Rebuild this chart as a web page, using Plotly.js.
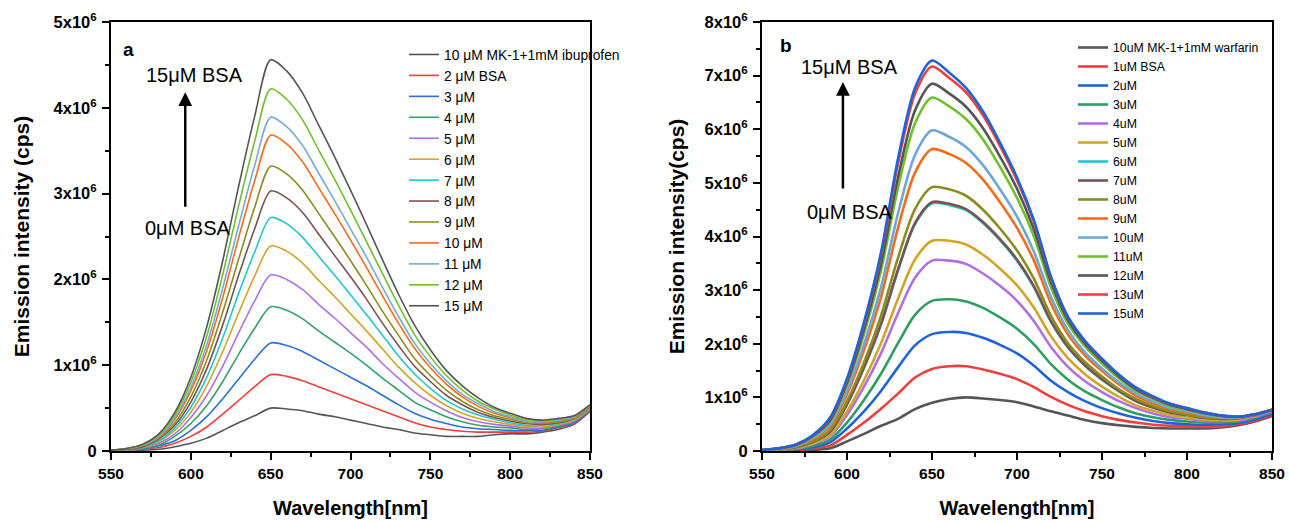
<!DOCTYPE html>
<html><head><meta charset="utf-8">
<script src="https://cdn.plot.ly/plotly-3.0.1.min.js"></script>
<style>html,body{margin:0;padding:0;background:#fff}</style>
</head><body><div id="chart" style="width:1290px;height:521px"></div>
<script>
// Wavelength grid (nm)
const wavelength = [550,560,570,580,590,600,610,620,630,640,650,660,670,680,690,700,710,720,730,740,750,760,770,780,790,800,810,820,830,840,850];

// Panel a: emission intensity in units of 10^6 cps
const aNames = ["10 μM MK-1+1mM ibuprofen","2 μM BSA","3 μM","4 μM","5 μM","6 μM","7 μM","8 μM","9 μM","10 μM","11 μM","12 μM","15 μM"];
const aIbuprofen = [.00,.00,.01,.02,.05,.09,.15,.24,.33,.41,.50,.49,.47,.43,.40,.36,.32,.28,.25,.21,.19,.17,.17,.17,.19,.20,.20,.22,.25,.31,.46];
const a2uM  = [.00,.01,.02,.04,.09,.17,.28,.43,.59,.75,.89,.87,.82,.75,.68,.61,.54,.47,.40,.33,.28,.25,.23,.22,.22,.22,.22,.23,.27,.32,.47];
const a3uM  = [.00,.01,.02,.06,.12,.24,.40,.61,.84,1.07,1.26,1.23,1.16,1.06,.96,.86,.76,.65,.54,.44,.37,.32,.28,.26,.25,.24,.24,.24,.28,.33,.48];
const a4uM  = [.00,.01,.03,.07,.17,.32,.53,.81,1.13,1.43,1.68,1.64,1.54,1.40,1.27,1.14,1.00,.85,.71,.57,.48,.40,.34,.30,.28,.27,.25,.26,.29,.34,.48];
const a5uM  = [.01,.01,.04,.09,.20,.39,.65,.99,1.38,1.75,2.05,2.00,1.88,1.71,1.55,1.38,1.21,1.02,.85,.69,.57,.47,.39,.34,.31,.29,.27,.27,.30,.35,.49];
const a6uM  = [.01,.02,.04,.11,.24,.45,.76,1.16,1.61,2.04,2.39,2.33,2.19,1.99,1.80,1.60,1.40,1.19,.98,.80,.65,.53,.44,.38,.34,.31,.29,.28,.31,.36,.50];
const a7uM  = [.01,.02,.05,.12,.27,.51,.86,1.32,1.84,2.32,2.72,2.65,2.49,2.27,2.05,1.82,1.59,1.35,1.11,.90,.73,.59,.49,.42,.37,.33,.30,.30,.32,.37,.50];
const a8uM  = [.01,.02,.05,.14,.30,.57,.96,1.47,2.05,2.59,3.03,2.95,2.78,2.53,2.28,2.03,1.77,1.49,1.23,.99,.81,.65,.54,.45,.39,.35,.32,.31,.33,.38,.51];
const a9uM  = [.01,.02,.06,.15,.33,.63,1.06,1.62,2.24,2.84,3.32,3.23,3.04,2.77,2.50,2.22,1.93,1.63,1.35,1.08,.88,.71,.58,.48,.41,.37,.33,.32,.34,.38,.52];
const a10uM = [.01,.03,.07,.16,.37,.70,1.17,1.79,2.49,3.15,3.68,3.58,3.37,3.07,2.77,2.46,2.14,1.81,1.49,1.20,.97,.78,.63,.52,.44,.39,.35,.33,.35,.39,.52];
const a11uM = [.01,.03,.07,.17,.39,.74,1.24,1.90,2.63,3.33,3.89,3.78,3.56,3.24,2.92,2.59,2.26,1.91,1.57,1.26,1.02,.82,.66,.55,.46,.40,.35,.34,.36,.40,.53];
const a12uM = [.01,.03,.08,.19,.42,.80,1.34,2.06,2.86,3.61,4.22,4.10,3.86,3.51,3.17,2.81,2.44,2.07,1.70,1.36,1.10,.88,.71,.58,.49,.42,.37,.35,.37,.41,.53];
const a15uM = [.01,.03,.08,.20,.45,.86,1.45,2.22,3.09,3.90,4.56,4.43,4.17,3.80,3.43,3.04,2.64,2.23,1.83,1.47,1.18,.94,.76,.62,.51,.44,.38,.36,.38,.41,.54];
const aColors = ["#555555","#ee3f3f","#2b6fd6","#35a06a","#b070e0","#d2a42a","#22c6cf","#7a5252","#8c8c1e","#f46c1a","#78a9d8","#6fc12c","#555555"];

// Panel b: emission intensity in units of 10^6 cps
const bNames = ["10uM MK-1+1mM warfarin","1uM BSA","2uM","3uM","4uM","5uM","6uM","7uM","8uM","9uM","10uM","11uM","12uM","13uM","15uM"];
const bWarfarin = [0,.01,.01,.02,.05,.18,.32,.47,.60,.78,.90,.97,1.0,.98,.95,.91,.83,.74,.66,.58,.52,.48,.45,.43,.42,.42,.42,.44,.48,.55,.65];
const b1uM  = [0,.01,.02,.05,.10,.30,.53,.79,1.07,1.37,1.53,1.58,1.58,1.52,1.44,1.34,1.19,1.01,.86,.74,.65,.58,.53,.49,.47,.46,.45,.46,.50,.57,.67];
const b2uM  = [0,.01,.03,.07,.16,.42,.74,1.12,1.56,1.97,2.18,2.22,2.20,2.11,1.98,1.82,1.59,1.31,1.10,.93,.80,.70,.62,.56,.52,.50,.49,.50,.52,.59,.69];
const b3uM  = [0,.02,.04,.10,.21,.53,.95,1.44,2.01,2.54,2.80,2.83,2.79,2.67,2.49,2.28,1.99,1.62,1.33,1.11,.95,.81,.70,.63,.58,.55,.53,.53,.55,.62,.72];
const b4uM  = [.01,.02,.05,.13,.27,.67,1.20,1.82,2.57,3.23,3.55,3.55,3.49,3.31,3.08,2.80,2.42,1.94,1.57,1.30,1.10,.93,.80,.70,.63,.60,.56,.56,.57,.64,.74];
const b5uM  = [.01,.03,.06,.14,.30,.74,1.32,2.01,2.84,3.57,3.92,3.92,3.85,3.66,3.40,3.09,2.67,2.14,1.73,1.43,1.20,1.01,.85,.75,.67,.62,.59,.58,.59,.66,.76];
const b6uM  = [.01,.03,.07,.17,.36,.87,1.55,2.36,3.37,4.23,4.62,4.59,4.49,4.25,3.93,3.55,3.05,2.41,1.93,1.59,1.33,1.11,.93,.81,.72,.67,.62,.60,.61,.67,.77];
const b7uM  = [.01,.03,.07,.17,.36,.87,1.56,2.37,3.38,4.25,4.64,4.61,4.51,4.27,3.95,3.57,3.07,2.42,1.94,1.60,1.34,1.12,.93,.81,.72,.67,.62,.60,.61,.67,.77];
const b8uM  = [.01,.03,.08,.18,.39,.93,1.65,2.52,3.60,4.51,4.92,4.88,4.76,4.50,4.15,3.74,3.21,2.52,2.01,1.66,1.39,1.15,.97,.84,.74,.68,.63,.61,.62,.68,.77];
const b9uM  = [.01,.04,.09,.22,.46,1.06,1.88,2.87,4.16,5.19,5.63,5.54,5.37,5.06,4.64,4.16,3.55,2.75,2.17,1.78,1.49,1.24,1.03,.89,.78,.72,.66,.63,.63,.68,.77];
const b10uM = [.01,.04,.10,.24,.49,1.12,1.99,3.05,4.43,5.52,5.98,5.86,5.67,5.33,4.88,4.37,3.71,2.87,2.25,1.84,1.54,1.28,1.07,.92,.80,.74,.67,.63,.63,.68,.77];
const b11uM = [.02,.04,.11,.27,.55,1.23,2.18,3.36,4.91,6.11,6.59,6.43,6.19,5.81,5.30,4.72,4.00,3.05,2.37,1.95,1.63,1.35,1.12,.97,.84,.77,.70,.65,.64,.68,.77];
const b12uM = [.02,.05,.11,.28,.57,1.27,2.27,3.49,5.10,6.35,6.85,6.67,6.42,6.02,5.49,4.89,4.13,3.15,2.44,2.00,1.68,1.39,1.15,.99,.86,.78,.71,.66,.64,.69,.77];
const b13uM = [.02,.05,.12,.29,.61,1.33,2.37,3.65,5.36,6.66,7.17,6.96,6.69,6.26,5.69,5.05,4.27,3.23,2.50,2.05,1.71,1.42,1.18,1.01,.88,.80,.72,.66,.64,.68,.77];
const b15uM = [.02,.05,.12,.30,.62,1.35,2.40,3.70,5.45,6.77,7.28,7.06,6.77,6.33,5.75,5.10,4.30,3.25,2.50,2.05,1.72,1.42,1.18,1.02,.88,.80,.72,.66,.64,.68,.76];
const bColors = ["#555555","#ee3f3f","#1f63d8","#2e9e60","#b070e0","#d2a42a","#22c6cf","#7a5252","#8c8c1e","#f46c1a","#6fa6d8","#6fc12c","#555555","#ee3f3f","#1f63d8"];

// Tick labels
const aYTickVals = [0,1,2,3,4,5];
const aYTickText = ["0","1x10<sup>6</sup>","2x10<sup>6</sup>","3x10<sup>6</sup>","4x10<sup>6</sup>","5x10<sup>6</sup>"];
const bYTickVals = [0,1,2,3,4,5,6,7,8];
const bYTickText = ["0","1x10<sup>6</sup>","2x10<sup>6</sup>","3x10<sup>6</sup>","4x10<sup>6</sup>","5x10<sup>6</sup>","6x10<sup>6</sup>","7x10<sup>6</sup>","8x10<sup>6</sup>"];

const aSeries = [aIbuprofen,a2uM,a3uM,a4uM,a5uM,a6uM,a7uM,a8uM,a9uM,a10uM,a11uM,a12uM,a15uM];
const bSeries = [bWarfarin,b1uM,b2uM,b3uM,b4uM,b5uM,b6uM,b7uM,b8uM,b9uM,b10uM,b11uM,b12uM,b13uM,b15uM];

const traces = [];
aSeries.forEach((ys,i)=>traces.push({x:wavelength,y:ys,type:'scatter',mode:'lines',name:aNames[i],
  line:{color:aColors[i],width:1.6,shape:'spline',smoothing:0.8},xaxis:'x',yaxis:'y',legend:'legend'}));
bSeries.forEach((ys,i)=>traces.push({x:wavelength,y:ys,type:'scatter',mode:'lines',name:bNames[i],
  line:{color:bColors[i],width:2.6,shape:'spline',smoothing:0.8},xaxis:'x2',yaxis:'y2',legend:'legend2'}));

const F = 'Liberation Sans, Arial, sans-serif';
const xTickFont = {family:F,size:15.5,color:'#000',weight:'bold'};
const yTickFont = {family:F,size:16.5,color:'#000',weight:'bold'};
const titleFont = {family:F,size:20,color:'#000',weight:'bold'};
function xAxis(domain, anchor){
  return {domain:domain,anchor:anchor,range:[550,850],tickmode:'linear',tick0:550,dtick:50,
    showline:true,linecolor:'#000',linewidth:2,mirror:true,ticks:'outside',ticklen:7,tickwidth:2,tickcolor:'#000',
    minor:{tickmode:'linear',tick0:575,dtick:50,ticks:'outside',ticklen:4,tickwidth:2,tickcolor:'#000'},
    showgrid:false,zeroline:false,tickfont:xTickFont,
    title:{text:'Wavelength[nm]',font:titleFont,standoff:20}};
}
function yAxis(domain, anchor, maxV, vals, text, title, standoff){
  const minorVals = []; for(let v=0.5; v<maxV; v+=1) minorVals.push(v);
  return {domain:domain,anchor:anchor,range:[0,maxV],tickmode:'array',tickvals:vals,ticktext:text,
    showline:true,linecolor:'#000',linewidth:2,mirror:true,ticks:'outside',ticklen:7,tickwidth:2,tickcolor:'#000',
    ticklabelstandoff:2,
    minor:{tickmode:'array',tickvals:minorVals,ticks:'outside',ticklen:4,tickwidth:2,tickcolor:'#000'},
    showgrid:false,zeroline:false,tickfont:yTickFont,
    title:{text:title,font:{family:F,size:21,color:'#000',weight:'bold'},standoff:standoff}};
}
const yDom = [70/521, 499/521];
const layout = {
  width:1290,height:521,margin:{l:0,r:0,t:0,b:0},
  paper_bgcolor:'#fff',plot_bgcolor:'#fff',showlegend:true,
  xaxis:xAxis([111/1290,590/1290],'y'),
  yaxis:yAxis(yDom,'x',5,aYTickVals,aYTickText,'Emission intensity (cps)',18),
  xaxis2:xAxis([762/1290,1272/1290],'y2'),
  yaxis2:yAxis(yDom,'x2',8,bYTickVals,bYTickText,'Emission intensity(cps)',14),
  legend:{x:404/1290,y:1-39/521,xanchor:'left',yanchor:'top',bgcolor:'rgba(0,0,0,0)',borderwidth:0,
    font:{family:F,size:13.8,color:'#000'},tracegroupgap:0},
  legend2:{x:1073/1290,y:1-33/521,xanchor:'left',yanchor:'top',bgcolor:'rgba(0,0,0,0)',borderwidth:0,
    font:{family:F,size:12.3,color:'#000'},tracegroupgap:0},
  annotations:[
    {xref:'x',yref:'y',x:561,y:4.68,text:'<b>a</b>',showarrow:false,font:{family:F,size:19,color:'#000'}},
    {xref:'x2',yref:'y2',x:564,y:7.57,text:'<b>b</b>',showarrow:false,font:{family:F,size:19,color:'#000'}},
    {xref:'x',yref:'y',x:602,y:4.38,text:'15μM BSA',showarrow:false,font:{family:F,size:20,color:'#000'}},
    {xref:'x',yref:'y',x:598,y:2.60,text:'0μM BSA',showarrow:false,font:{family:F,size:20,color:'#000'}},
    {xref:'x',yref:'y',x:596.5,y:4.18,ax:0,ay:116,text:'',showarrow:true,arrowhead:2,arrowsize:1.1,arrowwidth:2.5,arrowcolor:'#000'},
    {xref:'x2',yref:'y2',x:601.5,y:7.16,text:'15μM BSA',showarrow:false,font:{family:F,size:20,color:'#000'}},
    {xref:'x2',yref:'y2',x:601.5,y:4.46,text:'0μM BSA',showarrow:false,font:{family:F,size:20,color:'#000'}},
    {xref:'x2',yref:'y2',x:597.6,y:6.88,ax:0,ay:108,text:'',showarrow:true,arrowhead:2,arrowsize:1.1,arrowwidth:2.5,arrowcolor:'#000'}
  ]
};
Plotly.newPlot('chart',traces,layout,{displayModeBar:false,staticPlot:true});
</script></body></html>
